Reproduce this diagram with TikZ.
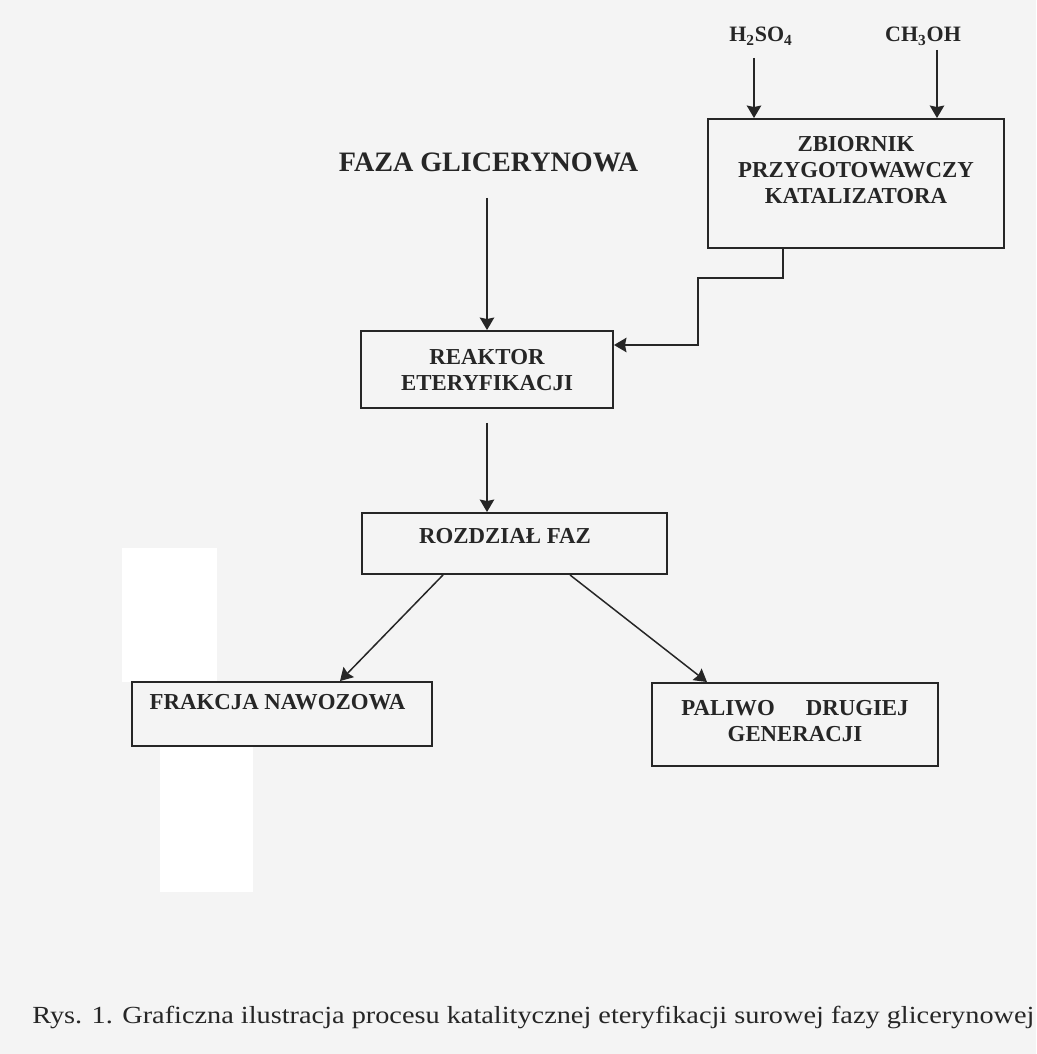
\documentclass[tikz,border=0pt]{standalone}
\usepackage{fontspec}
\setmainfont{Liberation Serif}
\newfontfamily\capfont[FakeStretch=1.15]{Liberation Serif}
\usetikzlibrary{arrows.meta}
\definecolor{ink}{HTML}{262626}
\definecolor{paper}{HTML}{F4F4F4}
\tikzset{>={Stealth[length=2.5mm,width=2.9mm,inset=0.3mm]}}
\tikzset{box/.style={draw=ink, line width=1.1pt, inner sep=0pt},
  lbl/.style={font=\bfseries\fontsize{13}{14.8}\selectfont, align=center, text=ink, inner sep=0pt},
  flow/.style={->, draw=ink, line width=0.85pt}}

\begin{document}
\begin{tikzpicture}
    \fill[paper] (0,0) rectangle (20.72,-21.08);
    \fill[white] (2.44,-10.96) rectangle (4.34,-13.64);
    \fill[white] (3.20,-14.92) rectangle (5.06,-17.84);
    % inputs
    \node (h2so4) at (15.22,-0.84) [anchor=base, inner sep=0pt, text=ink, font=\bfseries\fontsize{12.5}{14}\selectfont] {H\textsubscript{2}SO\textsubscript{4}};
    \node (ch3oh) at (18.46,-0.84) [anchor=base, inner sep=0pt, text=ink, font=\bfseries\fontsize{12.5}{14}\selectfont] {CH\textsubscript{3}OH};
    \node (faza) at (9.77,-3.44) [anchor=base, inner sep=0pt, text=ink, font=\bfseries\fontsize{16}{18}\selectfont] {FAZA GLICERYNOWA};
    % boxes
    \node (zbiornik) at (17.12,-3.67) [box, minimum width=5.92cm, minimum height=2.58cm] {};
    \node (reaktor) at (9.74,-7.39) [box, minimum width=5.04cm, minimum height=1.54cm] {};
    \node (rozdzial) at (10.29,-10.87) [box, minimum width=6.10cm, minimum height=1.22cm] {};
    \node (frakcja) at (5.64,-14.28) [box, minimum width=6.00cm, minimum height=1.28cm] {};
    \node (paliwo) at (15.90,-14.49) [box, minimum width=5.72cm, minimum height=1.66cm] {};
    \node (zbiornikT) at (17.12,-3.41) [lbl] {ZBIORNIK\\PRZYGOTOWAWCZY\\KATALIZATORA};
    \node (reaktorT) at (9.74,-7.41) [lbl] {REAKTOR\\ETERYFIKACJI};
    \node (rozdzialT) at (10.10,-10.86) [lbl, anchor=base] {ROZDZIAŁ FAZ};
    \node (frakcjaT) at (5.55,-14.18) [lbl, anchor=base] {FRAKCJA NAWOZOWA};
    \node (paliwoT) at (15.90,-14.42) [lbl] {PALIWO\hspace{0.62cm}DRUGIEJ\\GENERACJI};
    % connectors
    \coordinate (h2top) at ([xshift=-1.4mm,yshift=-3.2mm]h2so4.base);
    \coordinate (chtop) at ([xshift=2.8mm,yshift=-1.6mm]ch3oh.base);
    \draw[flow] (h2top) -- (h2top |- zbiornik.north);
    \draw[flow] (chtop) -- (chtop |- zbiornik.north);
    \draw[flow, shorten <=5.2mm] (reaktor.north |- faza.base) -- (reaktor.north);
    \draw[flow] ([xshift=-14.6mm]zbiornik.south) -- ++(0,-0.58) -- ++(-1.70,0) |- ([yshift=4.9mm]reaktor.east);
    \draw[flow, shorten <=2.8mm] (reaktor.south) -- (reaktor.south |- rozdzial.north);
    \draw[flow] ([xshift=-14.3mm]rozdzial.south) -- ([xshift=11.6mm]frakcja.north);
    \draw[flow] ([xshift=11.1mm]rozdzial.south) -- ([xshift=-17.6mm]paliwo.north);
    % caption
    \node (caption) at (0.64,-20.46) [anchor=base west, inner sep=0pt, text=ink, font=\capfont\fontsize{14}{16}\selectfont] {Rys. 1. Graficzna ilustracja procesu katalitycznej eteryfikacji surowej fazy glicerynowej};
\end{tikzpicture}
\end{document}
